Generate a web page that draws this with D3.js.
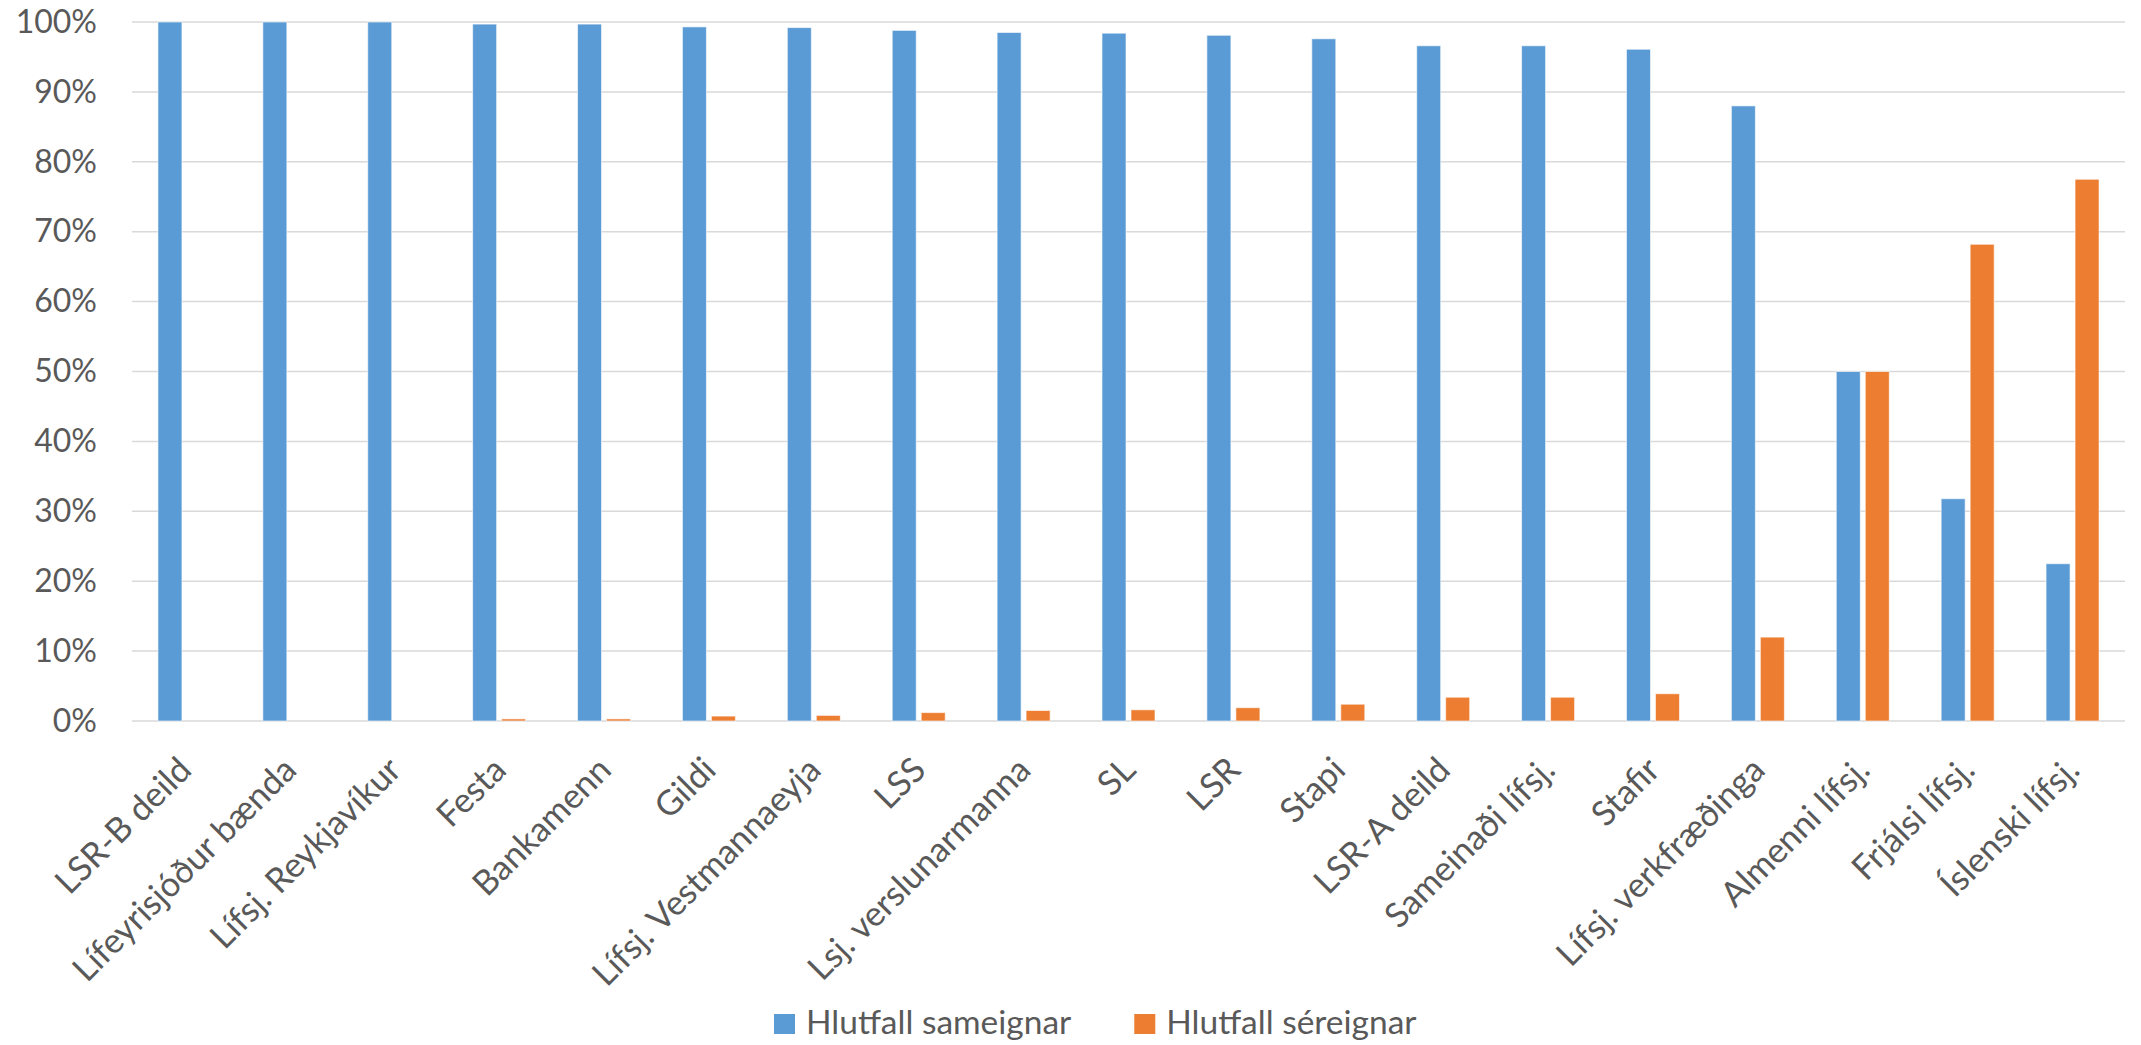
<!DOCTYPE html>
<html>
<head>
<meta charset="utf-8">
<script src="https://cdnjs.cloudflare.com/ajax/libs/d3/7.8.5/d3.min.js"></script>
<style>
  html, body { margin: 0; padding: 0; background: #fff; }
  svg { display: block; }
  text { font-family: Lato, "Open Sans", sans-serif; fill: #595959; }
</style>
</head>
<body>
<svg id="chart" width="2141" height="1045"></svg>
<script>
const categories = [
  "LSR-B deild", "Lífeyrisjóður bænda", "Lífsj. Reykjavíkur", "Festa", "Bankamenn",
  "Gildi", "Lífsj. Vestmannaeyja", "LSS", "Lsj. verslunarmanna", "SL", "LSR",
  "Stapi", "LSR-A deild", "Sameinaði lífsj.", "Stafir", "Lífsj. verkfræðinga",
  "Almenni lífsj.", "Frjálsi lífsj.", "Íslenski lífsj."
];
const seriesNames = ["Hlutfall sameignar", "Hlutfall séreignar"];
const sameign = [100, 100, 100, 99.7, 99.7, 99.3, 99.2, 98.8, 98.5, 98.4, 98.1, 97.6, 96.6, 96.6, 96.1, 88.0, 50.0, 31.8, 22.5];
const sereign = [0, 0, 0, 0.3, 0.3, 0.7, 0.8, 1.2, 1.5, 1.6, 1.9, 2.4, 3.4, 3.4, 3.9, 12.0, 50.0, 68.2, 77.5];
const yTicks = [0, 10, 20, 30, 40, 50, 60, 70, 80, 90, 100];
const colors = ["#5B9BD5", "#ED7D31"];

const svg = d3.select("#chart");
const plot = { left: 132, right: 2125, top: 22, bottom: 721 };

const x0 = d3.scaleBand().domain(categories).range([plot.left, plot.right]).padding(0);
const x1 = d3.scaleBand().domain(seriesNames).range([0, x0.bandwidth()])
  .paddingInner(0.172).paddingOuter(0.895);
const y = d3.scaleLinear().domain([0, 100]).range([plot.bottom, plot.top]);

// gridlines
svg.append("g")
  .selectAll("line").data(yTicks).join("line")
  .attr("x1", plot.left).attr("x2", plot.right)
  .attr("y1", d => y(d)).attr("y2", d => y(d))
  .attr("stroke", "#d9d9d9").attr("stroke-width", 1.5);

// y axis labels via d3 axis
const yAxis = d3.axisLeft(y).tickValues(yTicks).tickFormat(d => d + "%").tickSize(0).tickPadding(0);
const yg = svg.append("g").attr("transform", `translate(${plot.left - 35},0)`).call(yAxis);
yg.select(".domain").remove();
yg.selectAll("text").attr("font-size", 32).attr("fill", "#595959")
  .attr("font-family", "Lato, 'Open Sans', sans-serif");

// bars
const rows = categories.map((c, i) => ({ cat: c, vals: [sameign[i], sereign[i]] }));
const groups = svg.append("g").selectAll("g").data(rows).join("g")
  .attr("transform", d => `translate(${x0(d.cat)},0)`);
groups.selectAll("rect")
  .data(d => d.vals.map((v, k) => ({ key: seriesNames[k], v, k })))
  .join("rect")
  .attr("x", d => x1(d.key))
  .attr("width", x1.bandwidth())
  .attr("y", d => y(d.v))
  .attr("height", d => y(0) - y(d.v))
  .attr("fill", d => colors[d.k])
  .attr("stroke", "#ffffff").attr("stroke-width", 1).attr("stroke-opacity", 0.6);

// x axis labels
const xAxis = d3.axisBottom(x0).tickSize(0).tickPadding(0);
const xg = svg.append("g").attr("transform", `translate(0,${plot.bottom})`).call(xAxis);
xg.select(".domain").remove();
xg.selectAll(".tick text")
  .attr("font-size", 34.5).attr("fill", "#595959")
  .attr("font-family", "Lato, 'Open Sans', sans-serif")
  .attr("text-anchor", "end")
  .attr("dy", 0).attr("y", 0)
  .attr("transform", "translate(9,51) rotate(-45)");

// legend
const legend = svg.append("g");
let lx = 774;
seriesNames.forEach((name, k) => {
  legend.append("rect").attr("x", lx).attr("y", 1014).attr("width", 21).attr("height", 20)
    .attr("fill", colors[k]);
  const t = legend.append("text").attr("x", lx + 32).attr("y", 1034)
    .attr("font-size", 33.5).text(name);
  lx = lx + 32 + t.node().getComputedTextLength() + 63;
});
</script>
</body>
</html>
